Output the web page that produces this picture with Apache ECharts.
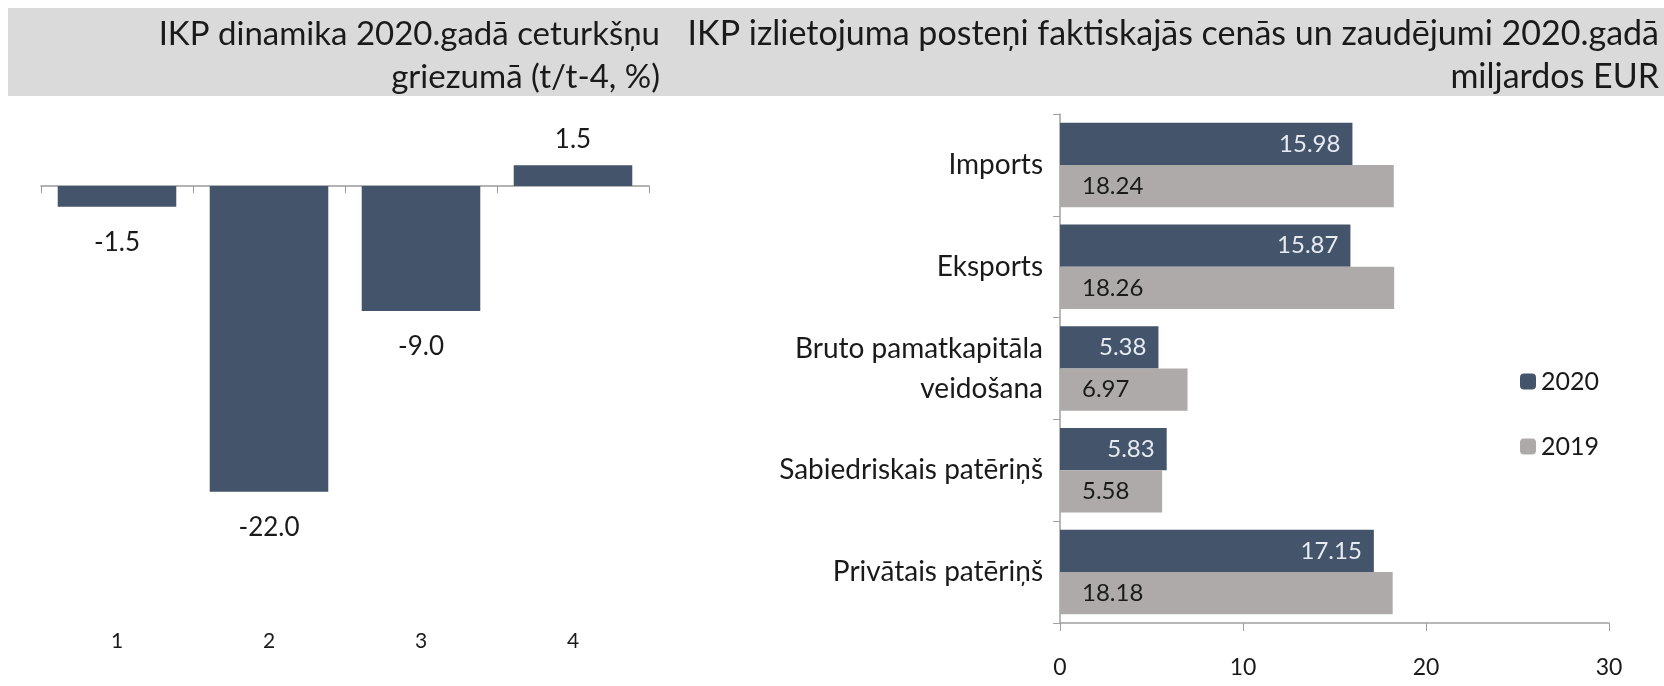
<!DOCTYPE html>
<html>
<head>
<meta charset="utf-8">
<script src="https://cdn.jsdelivr.net/npm/echarts@6/dist/echarts.min.js"></script>
<style>
  html, body { margin: 0; padding: 0; background: #fff; }
  #chart { width: 1664px; height: 686px; }
</style>
</head>
<body>
<div id="chart"></div>
<script>
// left panel: quarterly GDP change, %
var quarters = ['1', '2', '3', '4'];
var gdpChange = [-1.5, -22.0, -9.0, 1.5];

// right panel: GDP expenditure items, bn EUR
var items = ['Imports', 'Eksports', 'Bruto pamatkapitāla\nveidošana', 'Sabiedriskais patēriņš', 'Privātais patēriņš'];
var values2020 = [15.98, 15.87, 5.38, 5.83, 17.15];
var values2019 = [18.24, 18.26, 6.97, 5.58, 18.18];

var leftTitle = 'IKP dinamika 2020.gadā ceturkšņu\ngriezumā (t/t-4, %)';
var rightTitle = 'IKP izlietojuma posteņi faktiskajās cenās un zaudējumi 2020.gadā\nmiljardos EUR';

var FONT = 'Lato';
var DARK = '#44546a';
var GREY = '#aeaaaa';
var TXT = '#1a1a1a';

var chart = echarts.init(document.getElementById('chart'));

var option = {
  animation: false,
  textStyle: { fontFamily: FONT },
  graphic: [
    { type: 'rect', z: -1, shape: { x: 8, y: 8, width: 1656, height: 88 }, style: { fill: '#dadada' } }
  ],
  title: [
    {
      text: leftTitle, left: 655, top: 8, textAlign: 'right',
      textStyle: { fontFamily: FONT, fontSize: 33, fontWeight: 'normal', color: TXT, lineHeight: 43, align: 'right' }
    },
    {
      text: rightTitle, left: 1654, top: 8, textAlign: 'right',
      textStyle: { fontFamily: FONT, fontSize: 34, fontWeight: 'normal', color: TXT, lineHeight: 43, align: 'right' }
    }
  ],
  legend: {
    orient: 'vertical', left: 1515, top: 364, itemWidth: 16, itemHeight: 16, itemGap: 40,
    data: ['2020', '2019'],
    textStyle: { fontFamily: FONT, fontSize: 25, color: TXT }
  },
  grid: [
    { left: 41, right: 1015, top: 116.5, bottom: 83 },
    { left: 1060, right: 55, top: 114, bottom: 63 }
  ],
  xAxis: [
    {
      type: 'category', gridIndex: 0, data: quarters,
      axisLine: { onZero: true, lineStyle: { color: '#9a9a9a', width: 1.5 } },
      axisTick: { show: true, length: 7, lineStyle: { color: '#9a9a9a' } },
      axisLabel: { show: false }
    },
    {
      type: 'category', gridIndex: 0, data: quarters, position: 'bottom',
      axisLine: { show: false, onZero: false }, axisTick: { show: false },
      axisLabel: { fontFamily: FONT, fontSize: 21, color: TXT, margin: 28 }
    },
    {
      type: 'value', gridIndex: 1, min: 0, max: 30, interval: 10,
      splitLine: { show: false },
      axisLine: { show: true, lineStyle: { color: '#a0a0a0', width: 1.5 } },
      axisTick: { show: true, length: 8, lineStyle: { color: '#a0a0a0' } },
      axisLabel: { fontFamily: FONT, fontSize: 23, color: TXT, margin: 33 }
    }
  ],
  yAxis: [
    { type: 'value', gridIndex: 0, min: -30, max: 5, show: false, splitLine: { show: false } },
    {
      type: 'category', gridIndex: 1, data: items, inverse: true,
      axisLine: { show: true, lineStyle: { color: '#a0a0a0', width: 1.5 } },
      axisTick: { show: true, length: 7, lineStyle: { color: '#a0a0a0' } },
      axisLabel: { fontFamily: FONT, fontSize: 28, color: TXT, margin: 17, lineHeight: 40, align: 'right' }
    }
  ],
  series: [
    {
      type: 'bar', xAxisIndex: 0, yAxisIndex: 0, barCategoryGap: '22%',
      itemStyle: { color: DARK },
      label: { show: true, position: 'top', distance: 13, fontFamily: FONT, fontSize: 26, color: TXT,
        formatter: function (p) { return p.value.toFixed(1); } },
      data: gdpChange.map(function (v) {
        return v < 0 ? { value: v, label: { position: 'bottom', distance: 23 } } : v;
      })
    },
    {
      name: '2020', type: 'bar', xAxisIndex: 2, yAxisIndex: 1, barCategoryGap: '17%', barGap: '0%',
      itemStyle: { color: DARK },
      label: { show: true, position: 'insideRight', distance: 12, fontFamily: FONT, fontSize: 24, color: '#e6ebf2',
        formatter: function (p) { return p.value.toFixed(2); } },
      data: values2020
    },
    {
      name: '2019', type: 'bar', xAxisIndex: 2, yAxisIndex: 1, barCategoryGap: '17%', barGap: '0%',
      itemStyle: { color: GREY },
      label: { show: true, position: 'insideLeft', distance: 22, fontFamily: FONT, fontSize: 24, color: TXT,
        formatter: function (p) { return p.value.toFixed(2); } },
      data: values2019
    }
  ]
};

chart.setOption(option);
</script>
</body>
</html>
